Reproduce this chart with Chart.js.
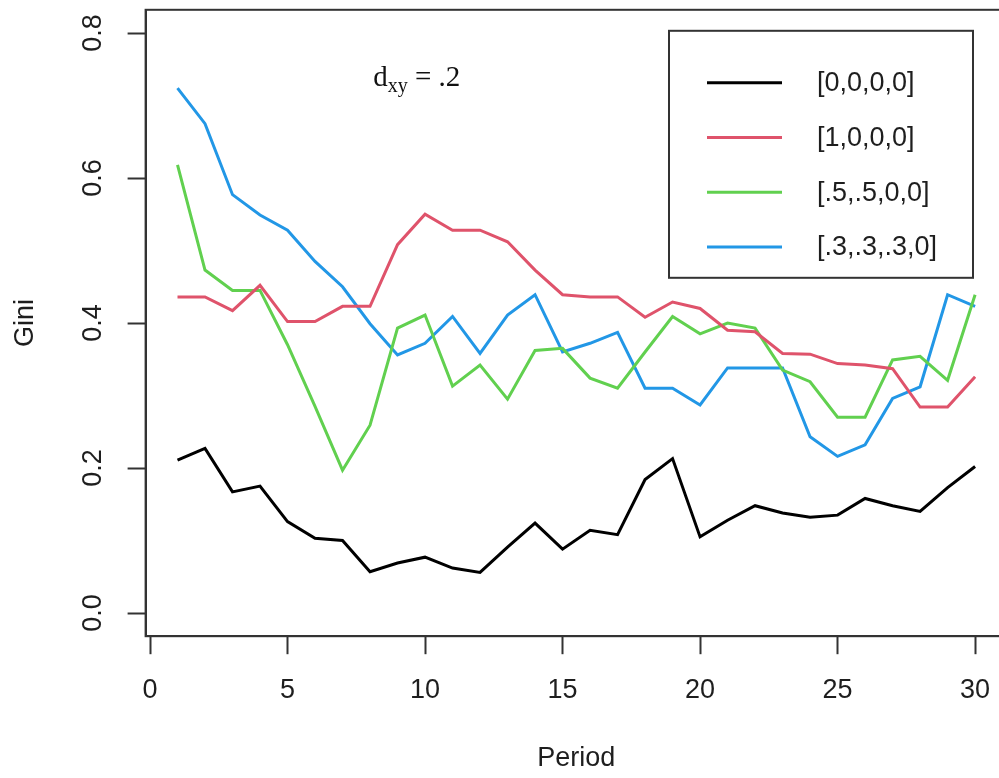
<!DOCTYPE html>
<html>
<head>
<meta charset="utf-8">
<title>Gini by period</title>
<script src="https://cdn.jsdelivr.net/npm/chart.js@4.4.0/dist/chart.umd.min.js"></script>
<style>
  html, body { margin: 0; padding: 0; background: #fff; overflow: hidden; }
  canvas { display: block; }
</style>
</head>
<body>
<canvas id="giniChart" width="1012" height="778"></canvas>
<script>
// periods on the x axis
const periods = [1, 2, 3, 4, 5, 6, 7, 8, 9, 10, 11, 12, 13, 14, 15,
                 16, 17, 18, 19, 20, 21, 22, 23, 24, 25, 26, 27, 28, 29, 30];

// Gini per period, one array per starting distribution
const gini0000 = [0.211, 0.227, 0.167, 0.175, 0.126, 0.103, 0.100, 0.057, 0.069, 0.077,
                  0.062, 0.056, 0.091, 0.124, 0.088, 0.114, 0.108, 0.184, 0.213, 0.105,
                  0.128, 0.148, 0.138, 0.132, 0.135, 0.158, 0.148, 0.140, 0.173, 0.202];
const gini1000 = [0.436, 0.436, 0.417, 0.452, 0.402, 0.402, 0.423, 0.423, 0.508, 0.550,
                  0.528, 0.528, 0.512, 0.473, 0.439, 0.436, 0.436, 0.408, 0.429, 0.420,
                  0.390, 0.388, 0.358, 0.357, 0.344, 0.342, 0.337, 0.284, 0.284, 0.326];
const gini5500 = [0.618, 0.473, 0.445, 0.445, 0.370, 0.285, 0.197, 0.259, 0.393, 0.411,
                  0.313, 0.342, 0.295, 0.362, 0.365, 0.324, 0.310, 0.360, 0.409, 0.385,
                  0.400, 0.393, 0.335, 0.319, 0.270, 0.270, 0.349, 0.354, 0.321, 0.439];
const gini3330 = [0.724, 0.675, 0.577, 0.549, 0.528, 0.485, 0.450, 0.399, 0.356, 0.372,
                  0.409, 0.358, 0.411, 0.439, 0.360, 0.372, 0.387, 0.310, 0.310, 0.287,
                  0.338, 0.338, 0.338, 0.243, 0.216, 0.232, 0.296, 0.312, 0.439, 0.423];

const seriesLabels = ['[0,0,0,0]', '[1,0,0,0]', '[.5,.5,0,0]', '[.3,.3,.3,0]'];
const seriesColors = ['#000000', '#DF536B', '#61D04F', '#2297E6'];

const xTicks = [0, 5, 10, 15, 20, 25, 30];
const yTicks = [0.0, 0.2, 0.4, 0.6, 0.8];

// axis limits padded by 4% like base R graphics
const xMin = 1 - 0.04 * 29, xMax = 30 + 0.04 * 29;
const yMin = 0 - 0.04 * 0.8, yMax = 0.8 + 0.04 * 0.8;

const ink = '#333333';
const textInk = '#1e1e1e';
const sansFont = { family: '"Liberation Sans", Arial, sans-serif', size: 27 };

// box around the plot, boxed legend and the d_xy note
const rFrame = {
  id: 'rFrame',
  afterDraw(chart) {
    const ctx = chart.ctx;
    const ca = chart.chartArea;
    ctx.save();

    ctx.strokeStyle = ink;
    ctx.lineWidth = 2;
    ctx.strokeRect(ca.left, ca.top, ca.right - ca.left, ca.bottom - ca.top);

    // legend
    const lg = { left: ca.right - 338, top: ca.top + 21, width: 304, height: 247 };
    ctx.fillStyle = '#fff';
    ctx.fillRect(lg.left, lg.top, lg.width, lg.height);
    ctx.strokeRect(lg.left, lg.top, lg.width, lg.height);
    ctx.font = '27px "Liberation Sans", Arial, sans-serif';
    ctx.textBaseline = 'middle';
    ctx.textAlign = 'left';
    chart.data.datasets.forEach((ds, i) => {
      const y = lg.top + 52 + i * 54.7;
      ctx.strokeStyle = ds.borderColor;
      ctx.lineWidth = 3;
      ctx.beginPath();
      ctx.moveTo(lg.left + 38, y);
      ctx.lineTo(lg.left + 113, y);
      ctx.stroke();
      ctx.fillStyle = textInk;
      ctx.fillText(ds.label, lg.left + 148, y + 1);
    });

    // d_xy = .2
    const xs = chart.scales.x, ys = chart.scales.y;
    const cx = xs.getPixelForValue(9.7);
    const base = ys.getPixelForValue(0.727);
    const big = '29px "Liberation Serif", "Times New Roman", serif';
    const small = '20px "Liberation Serif", "Times New Roman", serif';
    ctx.fillStyle = '#111';
    ctx.textBaseline = 'alphabetic';
    ctx.font = big;
    const wD = ctx.measureText('d').width;
    const wRest = ctx.measureText(' = .2').width;
    ctx.font = small;
    const wSub = ctx.measureText('xy').width;
    let x = cx - (wD + wSub + wRest) / 2;
    ctx.font = big;
    ctx.fillText('d', x, base);
    x += wD;
    ctx.font = small;
    ctx.fillText('xy', x, base + 6);
    x += wSub;
    ctx.font = big;
    ctx.fillText(' = .2', x, base);

    ctx.restore();
  }
};

const series = [gini0000, gini1000, gini5500, gini3330];

new Chart(document.getElementById('giniChart'), {
  type: 'line',
  data: {
    labels: periods,
    datasets: series.map((values, i) => ({
      label: seriesLabels[i],
      data: values,
      borderColor: seriesColors[i],
      backgroundColor: seriesColors[i],
      borderWidth: 3,
      pointRadius: 0,
      tension: 0,
      fill: false
    }))
  },
  options: {
    responsive: false,
    animation: false,
    events: [],
    layout: { padding: { top: 9.8, right: 5, left: 0, bottom: 0 } },
    plugins: {
      legend: { display: false },
      tooltip: { enabled: false }
    },
    scales: {
      x: {
        type: 'linear',
        min: xMin,
        max: xMax,
        afterBuildTicks: scale => { scale.ticks = xTicks.map(v => ({ value: v })); },
        afterFit: scale => {
          scale.height = 141.8;
          scale.paddingLeft = 0;
          scale.paddingRight = 0;
        },
        ticks: {
          autoSkip: false,
          maxRotation: 0,
          padding: 20,
          color: textInk,
          font: sansFont,
          callback: v => String(v)
        },
        grid: {
          drawOnChartArea: false,
          drawTicks: true,
          tickLength: 18,
          tickColor: ink,
          tickWidth: 2
        },
        border: { display: true, color: ink, width: 2 },
        title: {
          display: true,
          text: 'Period',
          color: textInk,
          font: sansFont,
          padding: { top: 3, bottom: 3 }
        }
      },
      y: {
        type: 'linear',
        min: yMin,
        max: yMax,
        afterBuildTicks: scale => { scale.ticks = yTicks.map(v => ({ value: v })); },
        afterFit: scale => {
          scale.width = 145.6;
          scale.paddingTop = 0;
          scale.paddingBottom = 0;
        },
        ticks: {
          autoSkip: false,
          minRotation: 90,
          maxRotation: 90,
          crossAlign: 'center',
          padding: 15,
          color: textInk,
          font: sansFont,
          callback: v => Number(v).toFixed(1)
        },
        grid: {
          drawOnChartArea: false,
          drawTicks: true,
          tickLength: 18,
          tickColor: ink,
          tickWidth: 2
        },
        border: { display: true, color: ink, width: 2 },
        title: {
          display: true,
          text: 'Gini',
          color: textInk,
          font: sansFont,
          padding: { top: 9, bottom: 9 }
        }
      }
    }
  },
  plugins: [rFrame]
});
</script>
</body>
</html>
